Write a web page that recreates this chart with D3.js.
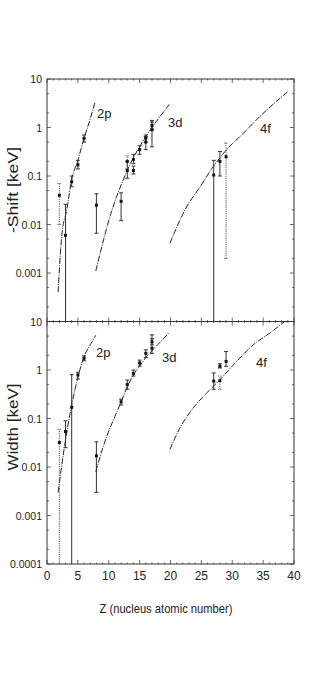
<!DOCTYPE html>
<html>
<head>
<meta charset="utf-8">
<script src="https://cdn.jsdelivr.net/npm/d3@7"></script>
<style>
  html, body { margin: 0; padding: 0; background: #fff; }
  svg { display: block; }
  text { font-family: "Liberation Sans Narrow", "Liberation Sans", Arial, sans-serif; fill: #222; }
</style>
</head>
<body>
<div id="canvas"></div>
<script>
'use strict';

// x axis
const zTicks = [0, 5, 10, 15, 20, 25, 30, 35, 40];
const shiftTickLabels = ['10', '1', '0.1', '0.01', '0.001'];
const widthTickLabels = ['1', '0.1', '0.01', '0.001', '0.0001'];

// theory curves, [Z, value in keV]
const shift2p = [[1.8, 0.0004], [2.4, 0.006], [3.2, 0.02], [4, 0.085], [5, 0.21], [6, 0.6], [7, 1.5], [7.8, 3.4]];
const shift3d = [[7.9, 0.0011], [9, 0.004], [10, 0.012], [11, 0.03], [12, 0.065], [13, 0.13], [14, 0.24],
  [15, 0.4], [16, 0.65], [17, 1.0], [18, 1.5], [19, 2.2], [19.8, 3.0]];
const shift4f = [[19.9, 0.0041], [22.6, 0.023], [24.8, 0.06], [26.9, 0.155], [29.1, 0.35], [31.8, 0.76],
  [34.5, 1.7], [37.2, 3.5], [39, 5.5]];

const width2p = [[1.8, 0.003], [2.9, 0.03], [4, 0.19], [5, 0.7], [6, 1.9], [7, 3.3], [7.9, 5.2]];
const width3d = [[7.9, 0.008], [9, 0.024], [10, 0.055], [11, 0.11], [12, 0.22], [13, 0.45], [14, 0.8],
  [15, 1.2], [16, 1.8], [17, 2.5], [18, 3.4], [19, 4.6], [19.8, 6]];
const width4f = [[19.9, 0.023], [21.5, 0.063], [23.7, 0.166], [25.9, 0.34], [28, 0.63], [30.7, 1.5],
  [33.4, 3.3], [36.1, 5.8], [38.5, 10]];

// measurements, [Z, value, low, high]
const shiftData = [
  [3, 0.006, 1e-4, 0.026], [4, 0.076, 0.06, 0.1], [5, 0.17, 0.14, 0.21], [6, 0.6, 0.5, 0.7],
  [8, 0.025, 0.0066, 0.043], [12, 0.03, 0.012, 0.045], [13, 0.13, 0.09, 0.2], [14, 0.22, 0.18, 0.28],
  [14, 0.13, 0.11, 0.16], [15, 0.35, 0.28, 0.42], [16, 0.5, 0.35, 0.65], [16, 0.6, 0.5, 0.7],
  [17, 0.9, 0.4, 1.4], [17, 1.1, 0.9, 1.3], [27, 0.105, 1e-4, 0.21], [28, 0.2, 0.1, 0.32],
];
const shiftDataOther = [[2, 0.04, 0.01, 0.07], [13, 0.2, 0.14, 0.26], [29, 0.25, 0.002, 0.48]];

const widthData = [
  [3, 0.054, 0.025, 0.09], [4, 0.17, 1e-4, 0.8], [5, 0.79, 0.65, 0.9], [6, 1.75, 1.55, 1.95],
  [8, 0.017, 0.003, 0.033], [12, 0.22, 0.19, 0.25], [13, 0.5, 0.4, 0.62], [14, 0.85, 0.75, 1.0],
  [15, 1.4, 1.2, 1.6], [16, 2.2, 1.8, 2.6], [17, 2.8, 2.2, 5.3], [17, 3.8, 3.3, 4.4],
  [27, 0.59, 0.4, 0.87], [28, 1.2, 1.1, 1.35], [29, 1.5, 1.19, 2.4],
];
const widthDataOther = [[2, 0.032, 1e-4, 0.06], [28, 0.6, 0.4, 0.75]];

const W = 316, H = 681;
const left = 47, right = 294;

const svg = d3.select('#canvas').append('svg')
    .attr('width', W).attr('height', H);

const x = d3.scaleLinear().domain([0, 40]).range([left, right]);

function drawPanel(top, bottom, opts) {
  const y = d3.scaleLog().domain([1e-4, 10]).range([bottom, top]);
  const g = svg.append('g');

  // minor / major ticks inside the frame
  const decades = d3.range(-4, 1);
  const minor = [];
  decades.forEach(e => [2, 5].forEach(m => minor.push(m * Math.pow(10, e))));
  const major = decades.map(e => Math.pow(10, e)).concat([10]);

  const tickG = g.append('g').attr('stroke', '#444').attr('stroke-width', 0.8);
  major.forEach(v => {
    tickG.append('line').attr('x1', left).attr('x2', left + 4).attr('y1', y(v)).attr('y2', y(v));
    tickG.append('line').attr('x1', right).attr('x2', right - 4).attr('y1', y(v)).attr('y2', y(v));
  });
  minor.forEach(v => {
    tickG.append('line').attr('x1', left).attr('x2', left + 2).attr('y1', y(v)).attr('y2', y(v));
    tickG.append('line').attr('x1', right).attr('x2', right - 2).attr('y1', y(v)).attr('y2', y(v));
  });
  d3.range(0, 41).forEach(z => {
    const len = z % 5 === 0 ? 4 : 1.5;
    tickG.append('line').attr('x1', x(z)).attr('x2', x(z)).attr('y1', top).attr('y2', top + len);
    tickG.append('line').attr('x1', x(z)).attr('x2', x(z)).attr('y1', bottom).attr('y2', bottom - len);
  });

  // frame
  g.append('rect')
      .attr('x', left).attr('y', top)
      .attr('width', right - left).attr('height', bottom - top)
      .attr('fill', 'none').attr('stroke', '#333').attr('stroke-width', 1);

  // tick labels
  g.selectAll('text.ylab').data(opts.labels).join('text')
      .attr('class', 'ylab')
      .attr('x', left - 5)
      .attr('y', d => y(+d) + 4)
      .attr('text-anchor', 'end')
      .attr('font-size', 10.5)
      .text(d => d);

  // axis title
  g.append('text')
      .attr('transform', `translate(${opts.titleX}, ${opts.titleY}) rotate(-90)`)
      .attr('text-anchor', 'middle')
      .attr('font-size', 14)
      .attr('textLength', opts.titleLen)
      .attr('lengthAdjust', 'spacingAndGlyphs')
      .text(opts.title);

  // curves
  const line = d3.line().x(d => x(d[0])).y(d => y(d[1])).curve(d3.curveMonotoneX);
  opts.curves.forEach(c => {
    g.append('path').datum(c)
        .attr('d', line)
        .attr('fill', 'none')
        .attr('stroke', '#222')
        .attr('stroke-width', 1)
        .attr('stroke-dasharray', '6,1.2,1,1.2');
  });

  // curve names
  opts.names.forEach(n => {
    g.append('text')
        .attr('x', n[0]).attr('y', n[1])
        .attr('font-size', 13)
        .text(n[2]);
  });

  // error bars
  const drawBars = (data, dash, colour) => {
    const eg = g.append('g')
        .attr('stroke', colour)
        .attr('stroke-width', 1)
        .attr('stroke-dasharray', dash);
    data.forEach(d => {
      const cx = x(d[0]);
      eg.append('line').attr('x1', cx).attr('x2', cx).attr('y1', y(d[2])).attr('y2', y(d[3]));
      [d[2], d[3]].forEach(v => {
        if (v > 1e-4) {
          eg.append('line').attr('x1', cx - 2).attr('x2', cx + 2).attr('y1', y(v)).attr('y2', y(v))
              .attr('stroke-dasharray', null);
        }
      });
    });
    g.append('g').selectAll('rect').data(data).join('rect')
        .attr('x', d => x(d[0]) - 1.5)
        .attr('y', d => y(d[1]) - 1.5)
        .attr('width', 3).attr('height', 3)
        .attr('fill', '#111');
  };
  drawBars(opts.data, null, '#333');
  drawBars(opts.dataOther, '1.2,1', '#555');

  return y;
}

drawPanel(79, 321.5, {
  labels: shiftTickLabels,
  title: '-Shift [keV]',
  titleLen: 86,
  titleX: 18, titleY: 190,
  curves: [shift2p, shift3d, shift4f],
  names: [[97, 118, '2p'], [168, 127, '3d'], [260, 133, '4f']],
  data: shiftData,
  dataOther: shiftDataOther,
});

drawPanel(321.5, 564, {
  labels: widthTickLabels,
  title: 'Width [keV]',
  titleLen: 87,
  titleX: 18, titleY: 427,
  curves: [width2p, width3d, width4f],
  names: [[96, 357, '2p'], [162, 362, '3d'], [256, 367, '4f']],
  data: widthData,
  dataOther: widthDataOther,
});

// top "10" label of lower panel
svg.append('text')
    .attr('x', left - 5).attr('y', 321.5 + 4)
    .attr('text-anchor', 'end')
    .attr('font-size', 10.5)
    .text('10');

// x tick labels
svg.selectAll('text.xlab').data(zTicks).join('text')
    .attr('class', 'xlab')
    .attr('x', d => x(d))
    .attr('y', 580)
    .attr('text-anchor', 'middle')
    .attr('font-size', 12)
    .text(d => d);

svg.append('text')
    .attr('x', 166).attr('y', 613)
    .attr('text-anchor', 'middle')
    .attr('font-size', 13)
    .attr('textLength', 133)
    .attr('lengthAdjust', 'spacingAndGlyphs')
    .text('Z (nucleus atomic number)');
</script>
</body>
</html>
